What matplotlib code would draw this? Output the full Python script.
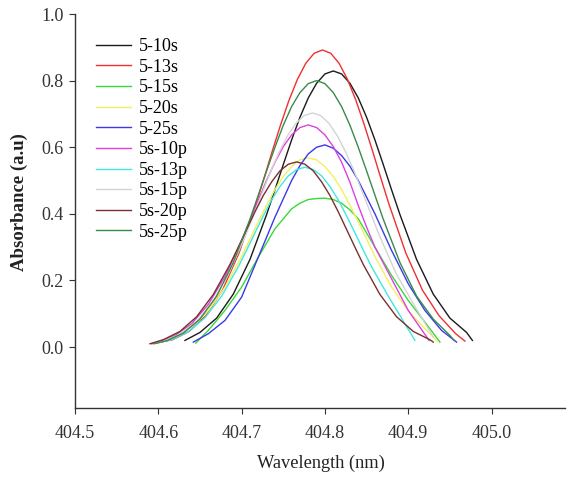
import numpy as np
import matplotlib
matplotlib.use("Agg")
import matplotlib.pyplot as plt

plt.rcParams['font.family'] = ['Liberation Serif', 'DejaVu Serif']

# values (wavelength in nm, absorbance)
labels = ["5-10s", "5-13s", "5-15s", "5-20s", "5-25s",
          "5s-10p", "5s-13p", "5s-15p", "5s-20p", "5s-25p"]

wl_5_10s = [404.632, 404.65, 404.67, 404.69, 404.71,
            404.73, 404.74, 404.75, 404.76, 404.77, 404.78, 404.79, 404.80, 404.81,
            404.82, 404.83, 404.84, 404.85, 404.86, 404.87, 404.88, 404.89,
            404.91, 404.93, 404.95, 404.97, 404.977]
ab_5_10s = [0.020, 0.044, 0.087, 0.159, 0.263,
            0.398, 0.472, 0.548, 0.622, 0.690, 0.748, 0.792, 0.820, 0.829,
            0.820, 0.792, 0.748, 0.690, 0.622, 0.548, 0.472, 0.398,
            0.263, 0.159, 0.087, 0.044, 0.020]

wl_5_13s = [404.592, 404.597, 404.617, 404.637, 404.657, 404.677, 404.697,
            404.717, 404.727, 404.737, 404.747, 404.757, 404.767, 404.777, 404.787, 404.797,
            404.807, 404.817, 404.827, 404.837, 404.847, 404.857, 404.867, 404.877,
            404.897, 404.917, 404.937, 404.957, 404.968]
ab_5_13s = [0.010, 0.012, 0.022, 0.047, 0.094, 0.171, 0.283,
            0.428, 0.508, 0.590, 0.669, 0.742, 0.804, 0.852, 0.882, 0.892,
            0.882, 0.852, 0.804, 0.742, 0.669, 0.590, 0.508, 0.428,
            0.283, 0.171, 0.094, 0.040, 0.018]

wl_5_15s = [404.645, 404.66, 404.68, 404.70, 404.72, 404.74, 404.76, 404.77, 404.78, 404.79,
            404.80, 404.81, 404.82, 404.83, 404.84, 404.86, 404.88, 404.90, 404.92, 404.938]
ab_5_15s = [0.012, 0.050, 0.110, 0.180, 0.270, 0.355, 0.415, 0.432, 0.443, 0.446,
            0.447, 0.443, 0.432, 0.412, 0.385, 0.300, 0.215, 0.140, 0.075, 0.015]

wl_5_20s = [404.595, 404.60, 404.62, 404.64, 404.66, 404.68,
            404.70, 404.71, 404.72, 404.73, 404.74, 404.75, 404.76, 404.77, 404.78,
            404.79, 404.80, 404.81, 404.82, 404.83, 404.84, 404.85, 404.86,
            404.88, 404.90, 404.92, 404.935]
ab_5_20s = [0.010, 0.014, 0.030, 0.060, 0.109, 0.180,
            0.272, 0.324, 0.376, 0.426, 0.473, 0.512, 0.542, 0.562, 0.568,
            0.562, 0.542, 0.512, 0.473, 0.426, 0.376, 0.324, 0.272,
            0.180, 0.109, 0.055, 0.018]

wl_5_25s = [404.642, 404.66, 404.68, 404.70, 404.72, 404.74, 404.76, 404.77, 404.78, 404.79,
            404.80, 404.81, 404.82, 404.83, 404.84, 404.86, 404.88, 404.90, 404.92, 404.94, 404.958]
ab_5_25s = [0.015, 0.040, 0.080, 0.150, 0.270, 0.390, 0.500, 0.545, 0.580, 0.600,
            0.607, 0.597, 0.575, 0.543, 0.500, 0.400, 0.290, 0.190, 0.110, 0.050, 0.015]

wl_5s_10p = [404.595, 404.60, 404.62, 404.64, 404.66, 404.68,
             404.70, 404.71, 404.72, 404.73, 404.74, 404.75, 404.76, 404.77, 404.78,
             404.79, 404.80, 404.81, 404.82, 404.83, 404.84, 404.85, 404.86,
             404.88, 404.90, 404.925]
ab_5s_10p = [0.012, 0.016, 0.035, 0.070, 0.128, 0.212,
             0.320, 0.380, 0.441, 0.501, 0.555, 0.602, 0.637, 0.659, 0.667,
             0.659, 0.637, 0.602, 0.555, 0.495, 0.425, 0.360, 0.300,
             0.205, 0.110, 0.020]

wl_5s_13p = [404.596, 404.616, 404.636, 404.656, 404.676,
             404.696, 404.706, 404.716, 404.726, 404.736, 404.746, 404.756, 404.766, 404.776,
             404.786, 404.796, 404.806, 404.816, 404.826, 404.836, 404.846, 404.856,
             404.876, 404.896, 404.908]
ab_5s_13p = [0.012, 0.022, 0.046, 0.088, 0.153,
             0.241, 0.291, 0.343, 0.394, 0.442, 0.482, 0.514, 0.533, 0.540,
             0.533, 0.514, 0.482, 0.442, 0.394, 0.343, 0.291, 0.241,
             0.153, 0.070, 0.020]

wl_5s_15p = [404.595, 404.605, 404.625, 404.645, 404.665, 404.685,
             404.705, 404.715, 404.725, 404.735, 404.745, 404.755, 404.765, 404.775, 404.785,
             404.795, 404.805, 404.815, 404.825, 404.835, 404.845, 404.855, 404.865,
             404.885, 404.905, 404.93]
ab_5s_15p = [0.012, 0.017, 0.037, 0.074, 0.135, 0.223,
             0.337, 0.401, 0.465, 0.528, 0.585, 0.634, 0.671, 0.695, 0.703,
             0.695, 0.671, 0.634, 0.585, 0.528, 0.465, 0.401, 0.337,
             0.223, 0.135, 0.030]

wl_5s_20p = [404.59, 404.606, 404.626, 404.646, 404.666,
             404.686, 404.696, 404.706, 404.716, 404.726, 404.736, 404.746, 404.756, 404.766,
             404.776, 404.786, 404.796, 404.806, 404.816, 404.826, 404.836, 404.846,
             404.866, 404.886, 404.906, 404.926, 404.93]
ab_5s_20p = [0.010, 0.022, 0.047, 0.091, 0.158,
             0.248, 0.300, 0.353, 0.406, 0.455, 0.496, 0.529, 0.549, 0.556,
             0.549, 0.529, 0.496, 0.455, 0.406, 0.353, 0.300, 0.248,
             0.158, 0.091, 0.047, 0.022, 0.015]

wl_5s_25p = [404.595, 404.61, 404.63, 404.65, 404.67, 404.69,
             404.71, 404.72, 404.73, 404.74, 404.75, 404.76, 404.77, 404.78, 404.79,
             404.80, 404.81, 404.82, 404.83, 404.84, 404.85, 404.86, 404.87,
             404.89, 404.91, 404.93, 404.95, 404.955]
ab_5s_25p = [0.010, 0.019, 0.042, 0.084, 0.153, 0.254,
             0.384, 0.456, 0.529, 0.600, 0.666, 0.722, 0.764, 0.791, 0.800,
             0.791, 0.764, 0.722, 0.666, 0.600, 0.529, 0.456, 0.384,
             0.254, 0.153, 0.084, 0.035, 0.020]

wavelengths = [wl_5_10s, wl_5_13s, wl_5_15s, wl_5_20s, wl_5_25s,
               wl_5s_10p, wl_5s_13p, wl_5s_15p, wl_5s_20p, wl_5s_25p]
absorbances = [ab_5_10s, ab_5_13s, ab_5_15s, ab_5_20s, ab_5_25s,
               ab_5s_10p, ab_5s_13p, ab_5s_15p, ab_5s_20p, ab_5s_25p]

colors = ["#1a1a1a", "#f03030", "#3ad83a", "#f2f060", "#3a3ae8",
          "#e040e0", "#40e8e0", "#d4d4d4", "#7a3030", "#3a8a4a"]

x_ticks = [404.5, 404.6, 404.7, 404.8, 404.9, 405.0]
y_ticks = [0.0, 0.2, 0.4, 0.6, 0.8, 1.0]

fig = plt.figure(figsize=(5.7, 4.78), dpi=100)
ax = fig.add_axes([0.1316, 0.1464, 0.8594, 0.8243])

for wl, ab, c, lab in zip(wavelengths, absorbances, colors, labels):
    ax.plot(wl, ab, color=c, lw=1.0, label=lab)

ax.set_xlim(404.5, 405.088)
ax.set_ylim(-0.183, 1.0)
ax.set_xticks(x_ticks)
ax.set_xticklabels(["%.1f" % t for t in x_ticks])
ax.set_yticks(y_ticks)
ax.set_yticklabels(["%.1f" % t for t in y_ticks])

for side in ["top", "right"]:
    ax.spines[side].set_visible(False)
for side in ["left", "bottom"]:
    ax.spines[side].set_color("#333333")
    ax.spines[side].set_linewidth(1.0)
ax.tick_params(direction="out", length=4, width=0.8, colors="#333333",
               labelsize=13, labelcolor="#333333")
ax.tick_params(axis="x", pad=8)
ax.tick_params(axis="y", pad=4)

ax.set_xlabel("Wavelength (nm)", fontsize=13.2, color="#222222")
ax.set_ylabel("Absorbance (a.u)", fontsize=13.5, fontweight="bold", color="#222222")
ax.xaxis.set_label_coords(0.502, -0.119)
ax.yaxis.set_label_coords(-0.096, 0.523)

leg = ax.legend(loc="upper left", bbox_to_anchor=(0.029, 0.957), frameon=False,
                fontsize=13, handlelength=1.9, labelspacing=0.2, handletextpad=0.45,
                borderaxespad=0.0)

fig.savefig("out.png", dpi=100)
